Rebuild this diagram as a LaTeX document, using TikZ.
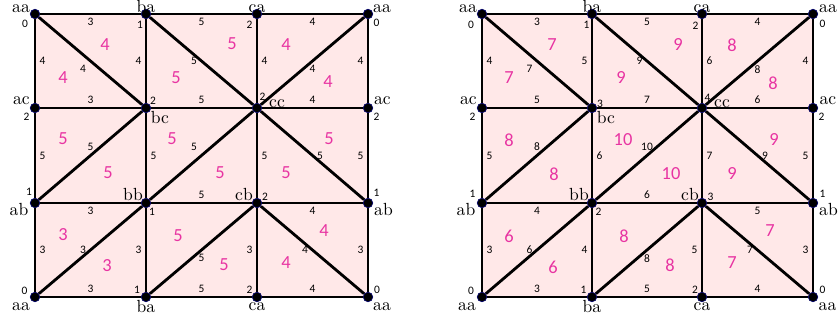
\documentclass[tikz,border=0pt]{standalone}
\usepackage{fontspec}
\newfontfamily\numfont{Carlito}
\definecolor{facepink}{RGB}{255,232,232}
\definecolor{facenum}{RGB}{232,52,162}
\tikzset{
  vert/.style={circle,fill=black,draw=blue!40!black,line width=0.4pt,inner sep=0pt,minimum size=0.19cm},
  gridline/.style={line width=1.6pt},
  vname/.style={anchor=base,inner sep=0pt},
  idx/.style={inner sep=0pt,font=\numfont\fontsize{6.5}{7}\selectfont},
  elab/.style={inner sep=1.8pt,font=\numfont\fontsize{6.5}{7}\selectfont},
  fnum/.style={inner sep=0pt,text=facenum,font=\numfont\fontsize{10.5}{12}\selectfont}
}

\begin{document}
\begin{tikzpicture}[x=0.02cm,y=-0.02cm]
\useasboundingbox (0,0) rectangle (839,321);

% left square
\fill[facepink] (35,14) rectangle (368,297);
\foreach \i/\x in {0/35,1/146,2/257,3/368}
  \foreach \j/\y in {0/297,1/203,2/108,3/14}
    \node[vert] (l\i\j) at (\x,\y) {};
\foreach \j/\a/\sa/\b/\sb/\c/\sc in {3/3/below/5/below/4/below,2/3/above/5/above/4/above,1/3/below/5/above/4/below,0/3/above/5/above/4/above}
  \draw[gridline] (l0\j) -- node[elab,\sa] (lh\j-1) {\a} (l1\j) -- node[elab,\sb] (lh\j-2) {\b} (l2\j) -- node[elab,\sc] (lh\j-3) {\c} (l3\j);
\foreach \i/\a/\sa/\b/\sb/\c/\sc in {0/4/right/5/right/3/right,1/4/left/5/right/3/left,2/4/right/5/right/3/left,3/4/left/5/left/3/left}
  \draw[gridline] (l\i3) -- node[elab,\sa] (lv\i-1) {\a} (l\i2) -- node[elab,\sb] (lv\i-2) {\b} (l\i1) -- node[elab,\sc] (lv\i-3) {\c} (l\i0);
\foreach \p/\q/\t/\s [count=\k] in {03/12/4/below left,13/22/5/left,22/33/4/below,01/12/5/above,11/22/5/above left,22/31/5/right,00/11/3/left,10/21/5/below,21/30/4/left}
  \draw[gridline] (l\p) -- node[elab,\s] (ld\k) {\t} (l\q);
\foreach \n/\x/\y/\t in {03/21/12.3/aa,13/146/12.3/ba,23/257/12.3/ca,33/382/12.3/aa,02/21.5/104/ac,12/160/123.5/bc,22/277/107/cc,32/382.5/104/ac,01/19/215/ab,11/133/200/bb,21/244/200/cb,31/383.5/215/ab,00/21/310/aa,10/146/312.5/ba,20/257/310/ca,30/382/310/aa}
  \node[vname] (ln\n) at (\x,\y) {\t};
\foreach \n/\x/\y/\t in {03/25/23.5/0,13/140/25/1,23/249.5/25/2,33/376.5/23/0,02/26.5/117/2,12/153/100.5/2,22/262.5/97/2,32/376.5/116.5/2,01/29/192/1,11/152/211.5/1,21/265/196.5/2,31/376.5/193/1,00/24.5/290.5/0,10/137/289.5/1,20/249.5/290/2,30/377/289.5/0}
  \node[idx] (li\n) at (\x,\y) {\t};
\foreach \x/\y/\t [count=\k] in {105/45/4,63/78/4,176/78/5,232/44/5,286/45/4,328/82/4,63/139/5,108/173/5,172/139/5,220/173/5,286/173/5,329/139/5,63/235/3,107/266/3,178/236/5,224/265/5,324/231/4,286/263/4}
  \node[fnum] (lf\k) at (\x,\y) {\t};

% right square
\fill[facepink] (482,14) rectangle (813,297);
\foreach \i/\x in {0/482,1/592,2/702,3/813}
  \foreach \j/\y in {0/297,1/203,2/108,3/14}
    \node[vert] (r\i\j) at (\x,\y) {};
\foreach \j/\a/\sa/\b/\sb/\c/\sc in {3/3/below/5/below/4/below,2/5/above/7/above/6/above,1/4/below/6/above/5/below,0/3/above/5/above/4/above}
  \draw[gridline] (r0\j) -- node[elab,\sa] (rh\j-1) {\a} (r1\j) -- node[elab,\sb] (rh\j-2) {\b} (r2\j) -- node[elab,\sc] (rh\j-3) {\c} (r3\j);
\foreach \i/\a/\sa/\b/\sb/\c/\sc in {0/4/right/5/right/3/right,1/5/left/6/right/4/left,2/6/right/7/right/5/left,3/4/left/5/left/3/left}
  \draw[gridline] (r\i3) -- node[elab,\sa] (rv\i-1) {\a} (r\i2) -- node[elab,\sb] (rv\i-2) {\b} (r\i1) -- node[elab,\sc] (rv\i-3) {\c} (r\i0);
\foreach \p/\q/\t/\s [count=\k] in {03/12/7/below left,13/22/9/left,22/33/8/below,01/12/8/above,11/22/10/above,22/31/9/right,00/11/6/left,10/21/8/below,21/30/7/left}
  \draw[gridline] (r\p) -- node[elab,\s] (rd\k) {\t} (r\q);
\foreach \n/\x/\y/\t in {03/468/12.3/aa,13/592/12.3/ba,23/702/12.3/ca,33/828/12.3/aa,02/468.5/104/ac,12/606/123.5/bc,22/722/107/cc,32/828/104/ac,01/466/215/ab,11/579/200/bb,21/690/200/cb,31/828.5/215/ab,00/467/310/aa,10/592/312.5/ba,20/702/310/ca,30/827.5/310/aa}
  \node[vname] (rn\n) at (\x,\y) {\t};
\foreach \n/\x/\y/\t in {03/471/25/0,13/586.5/25/1,23/695.5/25.5/2,33/822.5/24/0,02/472.5/117/2,12/600/103.5/3,22/707.5/97.5/4,32/821.5/117/2,01/472.5/194/1,11/598.5/211.5/2,21/710.5/196.5/3,31/822.5/193.5/1,00/471/290.5/0,10/583.5/289.5/1,20/695/290/2,30/822.5/289.5/0}
  \node[idx] (ri\n) at (\x,\y) {\t};
\foreach \x/\y/\t [count=\k] in {552/45/7,509/78/7,621/78/9,678/45/9,732/45/8,773/83/8,509/140/8,554/174/8,623/140/10,671/174/10,732/174/9,774/140/9,509/236/6,553/267/6,624/236/8,670/265/8,770/231/7,732/263/7}
  \node[fnum] (rf\k) at (\x,\y) {\t};
\end{tikzpicture}
\end{document}
